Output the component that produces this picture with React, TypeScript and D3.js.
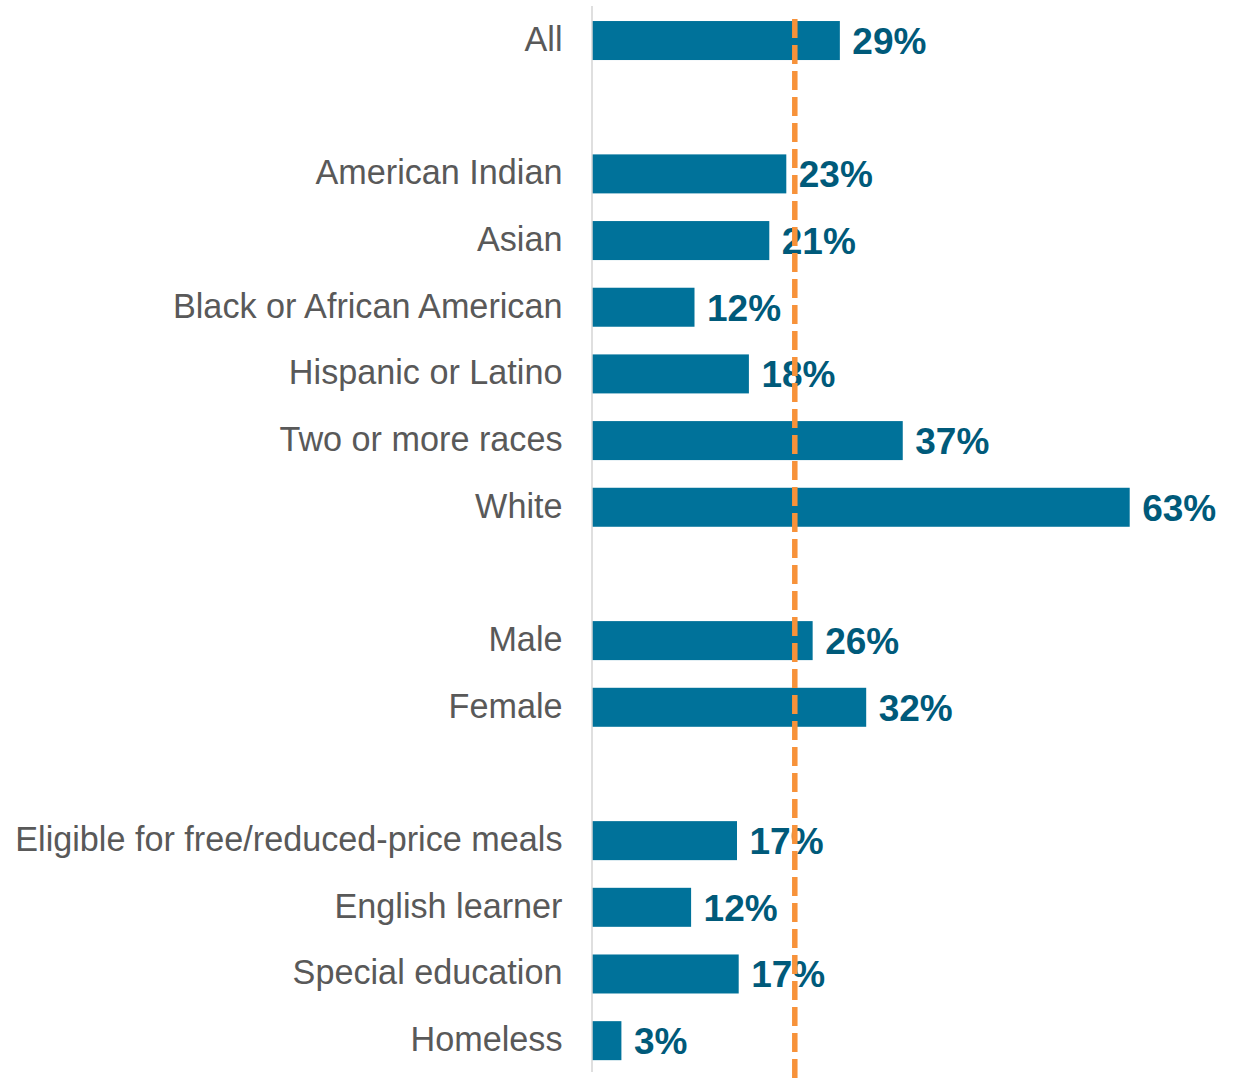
import React from "react";
import * as d3 from "d3";

const categories: string[] = [
  "All",
  "",
  "American Indian",
  "Asian",
  "Black or African American",
  "Hispanic or Latino",
  "Two or more races",
  "White",
  "",
  "Male",
  "Female",
  "",
  "Eligible for free/reduced-price meals",
  "English learner",
  "Special education",
  "Homeless",
];

const values: (number | null)[] = [
  29.1, null, 22.8, 20.8, 12.0, 18.4, 36.5, 63.2, null, 25.9, 32.2, null, 17.0, 11.6, 17.2, 3.4,
];

const valueLabels: string[] = [
  "29%", "", "23%", "21%", "12%", "18%", "37%", "63%", "", "26%", "32%", "", "17%", "12%", "17%", "3%",
];

const referenceValue = 23.8;

const W = 1243;
const H = 1078;

export default function App() {
  const keys = categories.map((_, i) => String(i));
  const x = d3.scaleLinear().domain([0, 70]).range([592.5, 592.5 + 70 * 8.5]);
  const y = d3
    .scaleBand<string>()
    .domain(keys)
    .range([7.2, 1074])
    .paddingInner(0.415)
    .paddingOuter(0.2075);
  const bw = y.bandwidth();
  const font = "'Liberation Sans', Arial, Helvetica, sans-serif";

  return (
    <svg
      width={W}
      height={H}
      style={{ position: "absolute", left: 0, top: 0, background: "#fff" }}
    >
      {categories.map((c, i) => {
        const v = values[i];
        const yc = (y(keys[i]) as number) + bw / 2;
        return (
          <g key={i}>
            {c !== "" && (
              <text
                x={562.5}
                y={yc + 10.5}
                textAnchor="end"
                fontFamily={font}
                fontSize={34.2}
                fill="#595959"
              >
                {c}
              </text>
            )}
            {v !== null && (
              <rect
                x={x(0)}
                y={y(keys[i])}
                width={x(v) - x(0)}
                height={bw}
                fill="#00729A"
              />
            )}
            {v !== null && (
              <text
                x={x(v) + 12.5}
                y={yc + 13.5}
                fontFamily={font}
                fontSize={37}
                fontWeight="bold"
                fill="#005A7A"
              >
                {valueLabels[i]}
              </text>
            )}
          </g>
        );
      })}
      <line x1={592} x2={592} y1={6} y2={1072} stroke="#BFBFBF" strokeWidth={1} />
      <line
        x1={x(referenceValue)}
        x2={x(referenceValue)}
        y1={19}
        y2={H}
        stroke="#F7923A"
        strokeWidth={5.5}
        strokeDasharray="19 7"
      />
    </svg>
  );
}
